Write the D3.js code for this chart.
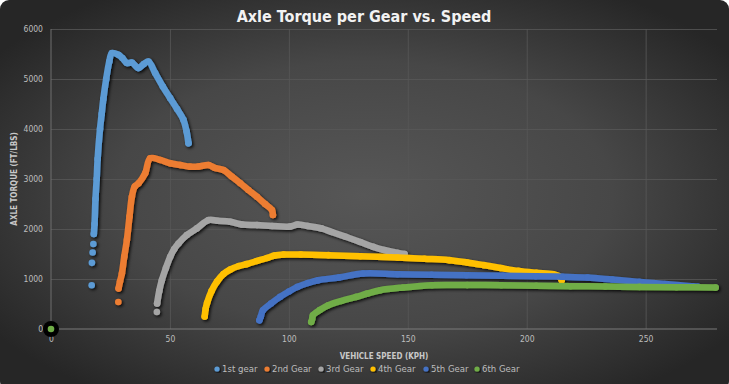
<!DOCTYPE html>
<html>
<head>
<meta charset="utf-8">
<script src="https://cdn.jsdelivr.net/npm/d3@7"></script>
<style>
  html, body { margin: 0; padding: 0; background: #fff; }
  svg { display: block; }
  text { font-family: "Liberation Sans Narrow", "DejaVu Sans Condensed", sans-serif; }
</style>
</head>
<body>
<svg id="chart" width="729" height="384"></svg>
<script>
//
// Data (speed kph, axle torque ft/lbs)
//
const gearNames = ["1st gear", "2nd Gear", "3rd Gear", "4th Gear", "5th Gear", "6th Gear"];
const gearColors = ["#5b9bd5", "#ed7d31", "#a5a5a5", "#ffc000", "#4472c4", "#70ad47"];

// how many leading points of each gear are loose dots, not part of the trace
const looseDots = [4, 1, 1, 0, 0, 0];

const gear1 = [[17.1, 876], [17.2, 1323], [17.5, 1531], [17.8, 1700],
  [18.0, 1900], [18.3, 2100], [18.7, 2600], [19.2, 3000], [19.6, 3400], [20.6, 4000],
  [21.3, 4300], [22.0, 4600], [23.2, 5000], [24.5, 5350], [25.6, 5519], [28.3, 5485],
  [30.0, 5420], [31.9, 5319], [34.0, 5330], [36.8, 5218], [39.0, 5300], [41.0, 5350],
  [43.8, 5118], [47.0, 4850], [50.1, 4617], [53.0, 4400], [55.7, 4182], [57.0, 3950],
  [57.8, 3715]];
const gear2 = [[28.3, 541],
  [28.4, 810], [29.0, 950], [29.8, 1110], [30.8, 1450], [31.9, 1778], [33.0, 2250],
  [34.0, 2645], [35.2, 2850], [36.8, 2914], [39.6, 3114], [41.7, 3415], [45.9, 3381],
  [50.1, 3315], [54.3, 3281], [58.5, 3247], [62.0, 3250], [66.2, 3281], [69.0, 3220],
  [72.5, 3180], [76.0, 3050], [79.6, 2914], [83.0, 2780], [86.6, 2645], [90.0, 2500],
  [92.9, 2379], [93.3, 2279]];
const gear3 = [[44.5, 341],
  [44.6, 509], [45.5, 760], [46.6, 976], [48.3, 1220], [50.1, 1443], [51.8, 1600],
  [53.6, 1711], [57.1, 1878], [61.3, 2012], [66.2, 2178], [70.0, 2165], [75.4, 2145],
  [80.3, 2090], [86.6, 2078], [93.0, 2060], [100.6, 2050], [103.6, 2090], [108.0, 2060],
  [113.7, 2012], [118.0, 1940], [123.9, 1844], [130.0, 1740], [135.5, 1643], [140.0, 1580],
  [145.7, 1523], [148.6, 1500]];
const gear4 = [[64.6, 250], [65.0, 400], [65.6, 520], [67.5, 760], [69.8, 950], [72.5, 1100],
  [75.4, 1190], [79.0, 1260], [82.4, 1300], [86.5, 1360], [90.8, 1420], [94.0, 1470],
  [97.8, 1490], [105.0, 1490], [116.6, 1477], [130.0, 1455], [145.7, 1431], [157.0, 1405],
  [167.5, 1377], [175.0, 1330], [182.0, 1277], [189.0, 1220], [196.5, 1162], [204.0, 1125],
  [211.1, 1096], [214.0, 1040], [214.7, 976]];
const gear5 = [[87.6, 174], [88.2, 250], [89.1, 375], [92.5, 510], [96.3, 642], [100.0, 750],
  [103.6, 842], [108.0, 920], [112.3, 976], [121.0, 1030], [131.2, 1110], [145.7, 1096],
  [160.0, 1085], [174.7, 1076], [190.0, 1066], [203.8, 1056], [215.0, 1045], [225.6, 1030],
  [236.0, 990], [247.4, 942], [258.0, 900], [269.2, 856], [272.0, 845]];
const gear6 = [[109.4, 140], [109.8, 200], [110.1, 274], [113.0, 380], [116.6, 475],
  [122.0, 560], [128.3, 642], [133.0, 710], [138.4, 776], [148.0, 830], [160.2, 876],
  [175.0, 878], [189.3, 876], [204.0, 866], [218.4, 856], [233.0, 850], [247.4, 842],
  [263.0, 836], [279.4, 830]];
const gears = [gear1, gear2, gear3, gear4, gear5, gear6];

// the single point sitting on the origin
const originPoint = [0, 0];

const xTicks = [0, 50, 100, 150, 200, 250];
const yTicks = [0, 1000, 2000, 3000, 4000, 5000, 6000];

//
// Layout
//
const width = 729, height = 384;
const plot = { left: 51, right: 717, top: 29, bottom: 329 };

const svg = d3.select("#chart");
const defs = svg.append("defs");

const bg = defs.append("radialGradient").attr("id", "bg")
  .attr("cx", "50%").attr("cy", "50%").attr("r", "62%");
bg.append("stop").attr("offset", "0%").attr("stop-color", "#575757");
bg.append("stop").attr("offset", "55%").attr("stop-color", "#474747");
bg.append("stop").attr("offset", "100%").attr("stop-color", "#262626");

const shadow = defs.append("filter").attr("id", "shadow")
  .attr("x", "-20%").attr("y", "-20%").attr("width", "140%").attr("height", "140%");
shadow.append("feDropShadow").attr("dx", 1.5).attr("dy", 1.5)
  .attr("stdDeviation", 1.4).attr("flood-color", "#000").attr("flood-opacity", 0.85);

svg.append("rect").attr("x", 0).attr("y", 0).attr("width", width).attr("height", height + 6)
  .attr("rx", 9).attr("fill", "url(#bg)");

const x = d3.scaleLinear().domain([0, 280]).range([plot.left, plot.right]);
const y = d3.scaleLinear().domain([0, 6000]).range([plot.bottom, plot.top]);

// gridlines
svg.append("g")
  .attr("transform", `translate(0,${plot.bottom})`)
  .call(d3.axisBottom(x).tickValues(xTicks.slice(1)).tickSize(-(plot.bottom - plot.top)).tickFormat(""))
  .call(g => g.select(".domain").remove())
  .call(g => g.selectAll("line").attr("stroke", "#585858").attr("stroke-width", 0.8));

svg.append("g")
  .attr("transform", `translate(${plot.left},0)`)
  .call(d3.axisLeft(y).tickValues(yTicks.slice(1)).tickSize(-(plot.right - plot.left)).tickFormat(""))
  .call(g => g.select(".domain").remove())
  .call(g => g.selectAll("line").attr("stroke", "#585858").attr("stroke-width", 0.8));

// axis lines
svg.append("line")
  .attr("x1", plot.left).attr("x2", plot.left).attr("y1", plot.top).attr("y2", plot.bottom)
  .attr("stroke", "#6e6e6e").attr("stroke-width", 1);
svg.append("line")
  .attr("x1", plot.left).attr("x2", plot.right).attr("y1", plot.bottom).attr("y2", plot.bottom)
  .attr("stroke", "#7a7a7a").attr("stroke-width", 1.2);

// tick labels
const xAxis = svg.append("g")
  .attr("transform", `translate(0,${plot.bottom})`)
  .call(d3.axisBottom(x).tickValues(xTicks).tickSize(0).tickPadding(7))
  .call(g => g.select(".domain").remove());
xAxis.selectAll("text").attr("fill", "#bdbdbd").attr("font-size", 8.5)
  .style("font-family", "'Liberation Sans Narrow', 'DejaVu Sans Condensed', sans-serif");

const yAxis = svg.append("g")
  .attr("transform", `translate(${plot.left},0)`)
  .call(d3.axisLeft(y).tickValues(yTicks).tickSize(0).tickPadding(8).tickFormat(d3.format("d")))
  .call(g => g.select(".domain").remove());
yAxis.selectAll("text").attr("fill", "#bdbdbd").attr("font-size", 8.5)
  .style("font-family", "'Liberation Sans Narrow', 'DejaVu Sans Condensed', sans-serif");

// titles
svg.append("text")
  .attr("x", 364).attr("y", 22).attr("text-anchor", "middle")
  .attr("font-size", 16).attr("font-weight", "bold").attr("fill", "#f2f2f2")
  .text("Axle Torque per Gear vs. Speed");

svg.append("text")
  .attr("x", 384).attr("y", 359).attr("text-anchor", "middle")
  .attr("font-size", 8).attr("font-weight", "bold").attr("fill", "#c8c8c8")
  .text("VEHICLE SPEED (KPH)");

svg.append("text")
  .attr("transform", `translate(17,${(plot.top + plot.bottom) / 2}) rotate(-90)`)
  .attr("text-anchor", "middle")
  .attr("font-size", 8).attr("font-weight", "bold").attr("fill", "#c8c8c8")
  .text("AXLE TORQUE (FT/LBS)");

//
// Series
//
const line = d3.line().x(d => x(d[0])).y(d => y(d[1])).curve(d3.curveCatmullRom);

const series = svg.append("g").attr("filter", "url(#shadow)");

gears.forEach((pts, i) => {
  const g = series.append("g");
  const trace = pts.slice(looseDots[i]);
  g.append("path")
    .attr("d", line(trace))
    .attr("fill", "none")
    .attr("stroke", gearColors[i])
    .attr("stroke-width", 6.5)
    .attr("stroke-linecap", "round")
    .attr("stroke-linejoin", "round");
  g.selectAll("circle")
    .data(pts)
    .join("circle")
    .attr("cx", d => x(d[0]))
    .attr("cy", d => y(d[1]))
    .attr("r", 3.3)
    .attr("fill", gearColors[i]);
});

// origin marker
svg.append("circle")
  .attr("cx", x(originPoint[0])).attr("cy", y(originPoint[1]))
  .attr("r", 8).attr("fill", "#000");
svg.append("circle")
  .attr("cx", x(originPoint[0])).attr("cy", y(originPoint[1]))
  .attr("r", 3.3).attr("fill", gearColors[5]);

//
// Legend
//
const legendX = [217, 267, 321, 373, 426, 477];
const legend = svg.append("g");
gearNames.forEach((name, i) => {
  const item = legend.append("g").attr("transform", `translate(${legendX[i]},369)`);
  item.append("circle").attr("r", 2.6).attr("fill", gearColors[i]).attr("filter", "url(#shadow)");
  item.append("text").attr("x", 5).attr("y", 3.3)
    .attr("font-size", 9.5).attr("fill", "#bdbdbd").text(name);
});
</script>
</body>
</html>
